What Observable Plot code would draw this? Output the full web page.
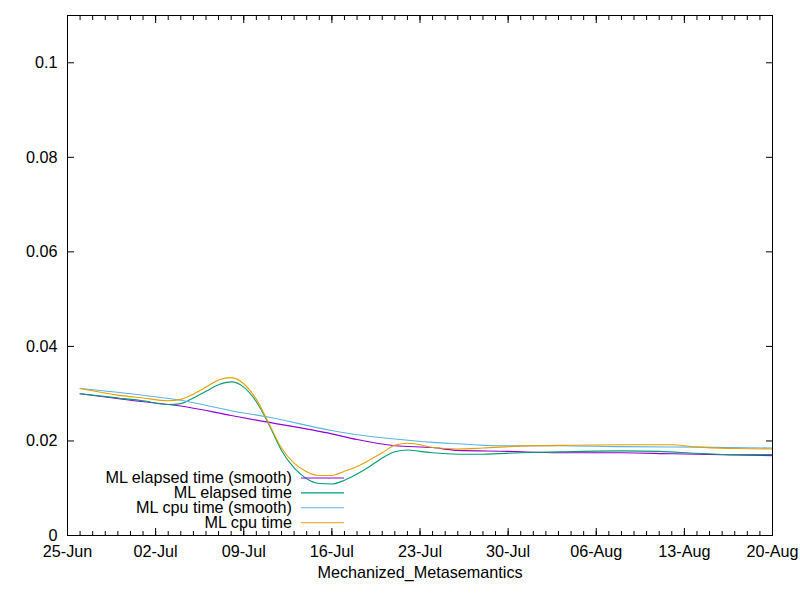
<!DOCTYPE html>
<html><head><meta charset="utf-8">
<script src="https://cdn.jsdelivr.net/npm/d3@7"></script>
<script src="https://cdn.jsdelivr.net/npm/@observablehq/plot@0.6"></script>
<style>
body{margin:0;background:#fff;}
#chart svg{font-family:"Liberation Sans",Arial,sans-serif;}
</style>
</head><body><div id="chart"></div><script>
// ---- data ----
const xLabel = "Mechanized_Metasemantics";
const seriesNames = ["ML elapsed time (smooth)", "ML elapsed time", "ML cpu time (smooth)", "ML cpu time"];
const seriesColors = ["#9400d3", "#009e73", "#56b4e9", "#e69f00"];

const elapsedSmoothDates = ["2023-06-26","2023-06-30","2023-07-04","2023-07-08","2023-07-10","2023-07-16","2023-07-18","2023-07-21","2023-07-24","2023-07-26","2023-07-30","2023-08-03","2023-08-08","2023-08-12","2023-08-16","2023-08-20"];
const elapsedSmooth = [0.0300,0.0286,0.0274,0.0254,0.0244,0.0215,0.0203,0.0190,0.0186,0.0180,0.0178,0.0175,0.0175,0.0173,0.0171,0.0169];

const elapsedDates = ["2023-06-26","2023-06-29","2023-07-01","2023-07-03","2023-07-04","2023-07-05","2023-07-06","2023-07-07","2023-07-08","2023-07-09","2023-07-10","2023-07-11","2023-07-12","2023-07-13","2023-07-14","2023-07-15","2023-07-16","2023-07-17","2023-07-18","2023-07-19","2023-07-20","2023-07-21","2023-07-22","2023-07-23","2023-07-24","2023-07-26","2023-07-28","2023-07-31","2023-08-03","2023-08-08","2023-08-11","2023-08-14","2023-08-17","2023-08-20"];
const elapsed = [0.0300,0.0291,0.0285,0.0277,0.0279,0.0291,0.0305,0.0319,0.0325,0.0314,0.0283,0.0235,0.0180,0.0143,0.0120,0.0110,0.0109,0.0117,0.0130,0.0146,0.0164,0.0177,0.0181,0.0178,0.0175,0.0172,0.0172,0.0175,0.0177,0.0179,0.0178,0.0174,0.0171,0.0171];

const cpuSmoothDates = ["2023-06-26","2023-06-30","2023-07-04","2023-07-08","2023-07-11","2023-07-16","2023-07-18","2023-07-21","2023-07-24","2023-07-26","2023-07-29","2023-08-03","2023-08-08","2023-08-14","2023-08-20"];
const cpuSmooth = [0.0311,0.0300,0.0286,0.0264,0.0250,0.0222,0.0213,0.0204,0.0197,0.0194,0.0190,0.0190,0.0188,0.0187,0.0185];

const cpuDates = ["2023-06-26","2023-06-29","2023-07-01","2023-07-03","2023-07-04","2023-07-05","2023-07-06","2023-07-07","2023-07-08","2023-07-09","2023-07-10","2023-07-11","2023-07-12","2023-07-13","2023-07-14","2023-07-15","2023-07-16","2023-07-17","2023-07-18","2023-07-19","2023-07-20","2023-07-21","2023-07-22","2023-07-23","2023-07-24","2023-07-26","2023-07-28","2023-07-31","2023-08-04","2023-08-08","2023-08-12","2023-08-14","2023-08-17","2023-08-20"];
const cpu = [0.0311,0.0297,0.0291,0.0285,0.0288,0.0299,0.0314,0.0329,0.0334,0.0321,0.0288,0.0237,0.0185,0.0153,0.0135,0.0127,0.0127,0.0136,0.0146,0.0160,0.0175,0.0191,0.0195,0.0192,0.0186,0.0183,0.0185,0.0189,0.0191,0.0192,0.0192,0.0187,0.0184,0.0183];

const xTickLabels = ["25-Jun","02-Jul","09-Jul","16-Jul","23-Jul","30-Jul","06-Aug","13-Aug","20-Aug"];
const xTickDates = ["2023-06-25","2023-07-02","2023-07-09","2023-07-16","2023-07-23","2023-07-30","2023-08-06","2023-08-13","2023-08-20"];
const yTicks = [0, 0.02, 0.04, 0.06, 0.08, 0.1];
const yTickLabels = ["0","0.02","0.04","0.06","0.08","0.1"];

// ---- build ----
const parse = d3.utcParse("%Y-%m-%d");
const toRows = (dates, vals) => dates.map((d, i) => ({date: parse(d), value: vals[i]}));
const series = [
  toRows(elapsedSmoothDates, elapsedSmooth),
  toRows(elapsedDates, elapsed),
  toRows(cpuSmoothDates, cpuSmooth),
  toRows(cpuDates, cpu)
];
const majorTicks = xTickDates.map(parse);
const minorTicks = d3.utcDay.range(majorTicks[0], d3.utcDay.offset(majorTicks[majorTicks.length - 1], 1));
const xFmt = d => xTickLabels[majorTicks.findIndex(t => +t === +d)];
const yFmt = d => yTickLabels[yTicks.indexOf(d)];
const blank = () => "";

const W = 800, H = 600, ML = 67, MR = 28, MT = 15, MB = 65;
const FS = 16.2;

const plot = Plot.plot({
  width: W, height: H,
  marginLeft: ML, marginRight: MR, marginTop: MT, marginBottom: MB,
  style: {fontFamily: "'Liberation Sans', Arial, sans-serif", fontSize: FS + "px", background: "#fff", color: "#000", overflow: "visible"},
  x: {type: "utc", domain: [majorTicks[0], majorTicks[majorTicks.length - 1]]},
  y: {domain: [0, 0.11]},
  marks: [
    Plot.axisX({ticks: minorTicks, tickSize: -4, tickFormat: blank, label: null}),
    Plot.axisX({anchor: "top", ticks: minorTicks, tickSize: -4, tickFormat: blank, label: null}),
    Plot.axisX({ticks: majorTicks, tickSize: -7, tickPadding: 17, tickFormat: xFmt, label: null, fontSize: FS}),
    Plot.axisX({anchor: "top", ticks: majorTicks, tickSize: -7, tickFormat: blank, label: null}),
    Plot.axisY({ticks: yTicks, tickSize: -7, tickPadding: 17, tickFormat: yFmt, label: null, fontSize: FS}),
    Plot.axisY({anchor: "right", ticks: yTicks, tickSize: -7, tickFormat: blank, label: null}),
    ...series.map((rows, i) => Plot.line(rows, {x: "date", y: "value", stroke: seriesColors[i], strokeWidth: 1.1, curve: "monotone-x"})),
    Plot.frame({stroke: "#000", strokeWidth: 1}),
    Plot.text([xLabel], {frameAnchor: "bottom", dy: 37, lineAnchor: "middle", fontSize: FS, fill: "#000"})
  ]
});

// legend inside the plot area (gnuplot style)
const svg = d3.select(plot);
const lg = svg.append("g").attr("font-family", "'Liberation Sans', Arial, sans-serif").attr("font-size", FS);
seriesNames.forEach((name, i) => {
  const cy = 477.5 + i * 14.9;
  lg.append("text").attr("x", 292).attr("y", cy).attr("dy", "0.35em").attr("text-anchor", "end").attr("fill", "#000").text(name);
  lg.append("line").attr("x1", 301).attr("x2", 344).attr("y1", cy + 0.5).attr("y2", cy + 0.5).attr("stroke", seriesColors[i]).attr("stroke-width", 1.1);
});

document.getElementById("chart").appendChild(plot);
</script></body></html>
